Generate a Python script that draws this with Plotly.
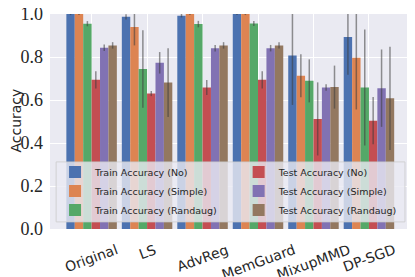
import plotly.graph_objects as go

categories = ["Original", "LS", "AdvReg", "MemGuard", "MixupMMD", "DP-SGD"]
series_names = ["Train Accuracy (No)", "Train Accuracy (Simple)", "Train Accuracy (Randaug)",
                "Test Accuracy (No)", "Test Accuracy (Simple)", "Test Accuracy (Randaug)"]
y_title = "Accuracy"

train_no = [1.0, 0.987, 0.992, 1.0, 0.807, 0.893]
train_simple = [1.0, 0.94, 1.0, 1.0, 0.713, 0.796]
train_randaug = [0.955, 0.744, 0.953, 0.956, 0.689, 0.658]
test_no = [0.694, 0.63, 0.658, 0.694, 0.512, 0.504]
test_simple = [0.843, 0.773, 0.841, 0.841, 0.658, 0.655]
test_randaug = [0.854, 0.681, 0.854, 0.854, 0.66, 0.608]

train_no_err = [0.005, 0.012, 0.008, 0.005, 0.23, 0.175]
train_simple_err = [0.005, 0.086, 0.005, 0.005, 0.10, 0.24]
train_randaug_err = [0.012, 0.18, 0.015, 0.012, 0.10, 0.27]
test_no_err = [0.04, 0.012, 0.035, 0.04, 0.17, 0.11]
test_simple_err = [0.015, 0.05, 0.015, 0.015, 0.015, 0.18]
test_randaug_err = [0.015, 0.16, 0.015, 0.015, 0.10, 0.24]

colors = ["#4C72B0", "#DD8452", "#55A868", "#C44E52", "#8172B3", "#937860"]

values = [train_no, train_simple, train_randaug, test_no, test_simple, test_randaug]
errors = [train_no_err, train_simple_err, train_randaug_err, test_no_err, test_simple_err, test_randaug_err]

fig = go.Figure()
for i, (name, vals, errs) in enumerate(zip(series_names, values, errors)):
    fig.add_trace(go.Bar(
        x=categories, y=vals, name=name,
        marker=dict(color=colors[i], line=dict(width=0)),
        error_y=dict(type="data", array=errs, visible=True, width=0,
                     thickness=1.5, color="rgba(60,60,60,0.55)"),
        legend="legend" if i < 3 else "legend2",
    ))

# legend background box (spanning both legend columns)
fig.add_shape(type="rect", xref="paper", yref="paper",
              x0=0.017, x1=0.986, y0=0.033, y1=0.312,
              fillcolor="rgba(234,234,242,0.8)", line=dict(color="rgba(204,204,204,0.8)", width=1),
              layer="above")

for c in categories:
    fig.add_annotation(x=c, y=-0.045, xref="x", yref="paper", text=c, showarrow=False,
                       textangle=-20, xanchor="center", yanchor="top",
                       font=dict(family="DejaVu Sans", size=14, color="#262626"))

fig.add_annotation(x=-0.094, y=0.505, xref="paper", yref="paper", text=y_title, showarrow=False,
                   textangle=-90, xanchor="center", yanchor="middle",
                   font=dict(family="DejaVu Sans", size=14, color="#262626"))

legend_font = dict(family="DejaVu Sans", size=9.5, color="#262626")
fig.update_layout(
    width=407, height=269,
    margin=dict(l=42, r=5, t=6, b=48),
    paper_bgcolor="white", plot_bgcolor="#EAEAF2",
    barmode="group", bargap=0.09, bargroupgap=0,
    showlegend=True,
    legend=dict(x=0.014, y=0.333, xanchor="left", yanchor="top", bgcolor="rgba(0,0,0,0)",
                font=legend_font, tracegroupgap=0),
    legend2=dict(x=0.524, y=0.333, xanchor="left", yanchor="top", bgcolor="rgba(0,0,0,0)",
                 font=legend_font, tracegroupgap=0),
    xaxis=dict(type="category", range=[-0.75, 5.74], showticklabels=False,
               showgrid=True, gridcolor="white", gridwidth=1, zeroline=False, ticks="",
               automargin=False),
    yaxis=dict(range=[0, 1.0], dtick=0.2, tick0=0, tickformat=".1f", automargin=False,
               showgrid=True, gridcolor="white", gridwidth=1, zeroline=False, ticks="",
               ticklabeloverflow="allow", ticklabelstandoff=6,
               tickfont=dict(family="Liberation Serif", size=18, color="#262626")),
)

fig.write_html("out.html")
